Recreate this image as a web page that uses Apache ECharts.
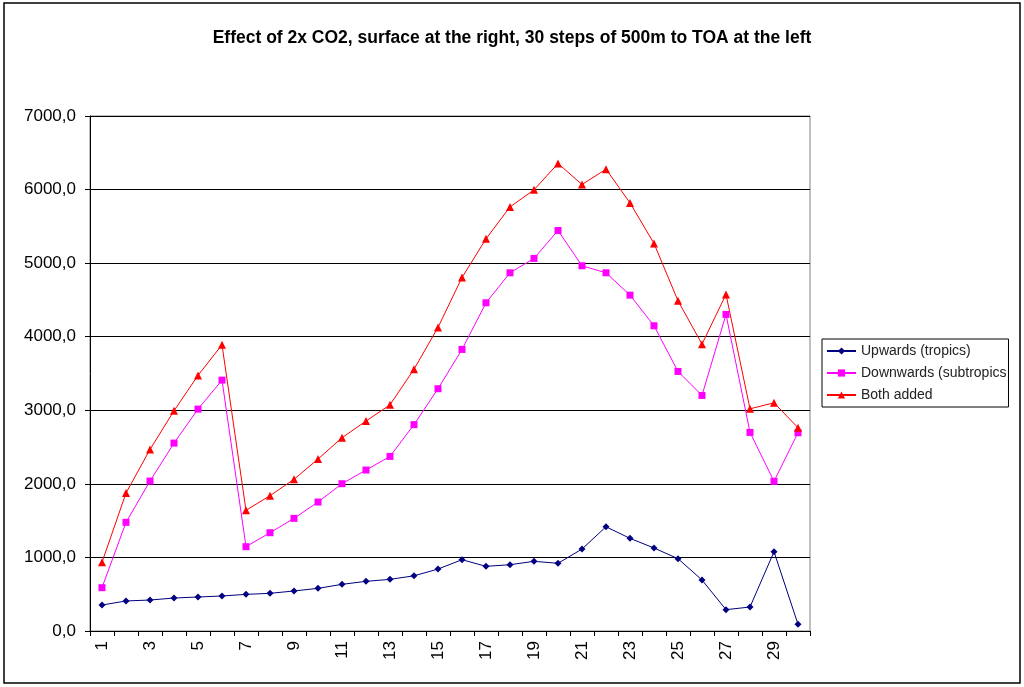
<!DOCTYPE html>
<html>
<head>
<meta charset="utf-8">
<title>Effect of 2x CO2</title>
<script src="https://cdn.jsdelivr.net/npm/echarts@6/dist/echarts.min.js"></script>
<style>
    html,body{margin:0;padding:0;background:#fff;}
    #main{width:1024px;height:687px;}
</style>
</head>
<body>
<div id="main"></div>
<script>
// 数据
var steps = [];
for (var i = 1; i <= 30; i++) { steps.push(String(i)); }
var yTicks = [0, 1000, 2000, 3000, 4000, 5000, 6000, 7000];
var upwards = [353, 408, 421, 448, 462, 476, 498, 512, 544, 580, 634, 675, 702, 750, 842,
               969, 879, 901, 947, 920, 1114, 1417, 1259, 1128, 983, 693, 290, 326, 1078, 91];
var downwards = [589, 1477, 2038, 2554, 3016, 3410, 1146, 1336, 1531, 1753, 2002, 2188, 2373, 2805, 3293,
                 3827, 4461, 4869, 5064, 5444, 4964, 4869, 4565, 4149, 3528, 3202, 4303, 2699, 2034, 2695];
var bothAdded = [933, 1875, 2468, 2993, 3474, 3890, 1640, 1839, 2061, 2337, 2627, 2853, 3075, 3558, 4126,
                 4805, 5330, 5764, 5996, 6354, 6069, 6277, 5819, 5267, 4488, 3899, 4575, 3020, 3102, 2763];
var names = ['Upwards (tropics)', 'Downwards (subtropics', 'Both added'];

var font = '"Liberation Sans", Arial, sans-serif';

$init();
function $init(){
    var myChart = echarts.init(document.getElementById('main'));
    var option = {
        backgroundColor: '#fff',
        animation: false,
        textStyle: {fontFamily: font},
        title: {
            text: 'Effect of 2x CO2, surface at the right, 30 steps of 500m to TOA at the left',
            left: 'center',
            top: 24,
            textStyle: {fontFamily: font, fontSize: 17.5, fontWeight: 'bold', color: '#000'}
        },
        // 外框
        graphic: [{
            type: 'rect',
            shape: {x: 4, y: 3, width: 1016, height: 680},
            style: {fill: 'none', stroke: '#000', lineWidth: 1.5},
            silent: true
        }],
        legend: {
            orient: 'vertical',
            left: 822,
            top: 339,
            width: 189,
            padding: [5, 2, 5, 4],
            itemWidth: 29,
            itemHeight: 9,
            itemGap: 8,
            borderColor: '#000',
            borderWidth: 1,
            textStyle: {fontFamily: font, fontSize: 14, color: '#222'},
            data: names
        },
        grid: {
            left: 90, right: 214, top: 116, bottom: 56,
            show: true,
            borderColor: '#808080',
            borderWidth: 1,
            containLabel: false
        },
        xAxis: {
            type: 'category',
            data: steps,
            boundaryGap: true,
            axisLine: {lineStyle: {color: '#000', width: 1}},
            axisTick: {show: true, interval: 0, length: 5, inside: false, lineStyle: {color: '#000'}},
            axisLabel: {interval: 1, rotate: 90, margin: 10, fontSize: 17, color: '#000', fontFamily: font},
            splitLine: {show: false}
        },
        yAxis: {
            type: 'value',
            min: yTicks[0],
            max: yTicks[yTicks.length - 1],
            interval: 1000,
            axisLine: {show: true, lineStyle: {color: '#000', width: 1}},
            axisTick: {show: true, length: 5, lineStyle: {color: '#000'}},
            axisLabel: {
                margin: 14, fontSize: 17, color: '#000', fontFamily: font,
                formatter: function (v) { return v.toFixed(1).replace('.', ','); }
            },
            splitLine: {show: true, lineStyle: {color: '#000', width: 1}}
        },
        series: [
            {
                name: names[0], type: 'line', data: upwards,
                symbol: 'diamond', symbolSize: 7,
                lineStyle: {color: '#000080', width: 1},
                itemStyle: {color: '#000080'}
            },
            {
                name: names[1], type: 'line', data: downwards,
                symbol: 'rect', symbolSize: 7,
                lineStyle: {color: '#ff00ff', width: 1},
                itemStyle: {color: '#ff00ff'}
            },
            {
                name: names[2], type: 'line', data: bothAdded,
                symbol: 'triangle', symbolSize: 8,
                lineStyle: {color: '#ff0000', width: 1},
                itemStyle: {color: '#ff0000'}
            }
        ]
    };
    myChart.setOption(option);
}
</script>
</body>
</html>
